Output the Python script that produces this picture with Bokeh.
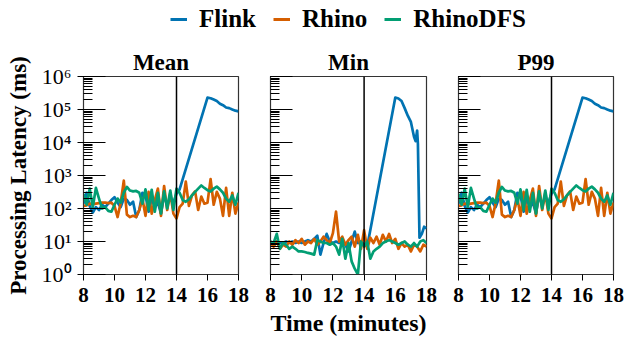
from bokeh.plotting import figure
from bokeh.layouts import column, row
from bokeh.models import (Range1d, FixedTicker, LogTicker, Span, Legend, LegendItem,
                          CustomJSTickFormatter)
from bokeh.embed import file_html
from bokeh.resources import INLINE

# ---------------- data ----------------
TIME = [8.0, 8.2, 8.4, 8.6, 8.8, 9.0, 9.2, 9.4, 9.6, 9.8, 10.0, 10.2, 10.4, 10.6, 10.8,
        11.0, 11.2, 11.4, 11.6, 11.8, 12.0, 12.2, 12.4, 12.6, 12.8, 13.0, 13.2, 13.4,
        13.6, 13.8, 14.0, 14.2, 14.4, 14.6, 14.8, 15.0, 15.2, 15.4, 15.6, 15.8, 16.0,
        16.2, 16.4, 16.6, 16.8, 17.0, 17.2, 17.4, 17.6, 17.8, 18.0]

# Mean panel
MEAN_FLINK_T = [8.0, 8.2, 8.4, 8.6, 8.8, 9.0, 9.2, 9.4, 9.6, 9.8, 10.0, 10.2, 10.4, 10.6,
                10.8, 11.0, 11.2, 11.4, 11.6, 11.8, 12.0, 12.2, 12.4, 12.6, 12.8, 13.0,
                13.2, 13.4, 13.6, 13.8, 14.0, 14.2, 16.0, 16.2, 16.4, 16.6, 16.8, 17.0,
                17.2, 17.4, 17.6, 17.8, 18.0]
MEAN_FLINK = [140, 300, 120, 75, 110, 90, 130, 110, 140, 180, 220, 150, 110, 200, 180,
              130, 160, 55, 90, 300, 250, 80, 200, 110, 150, 70, 250, 130, 200, 150, 280,
              380, 230000, 220000, 200000, 180000, 150000, 135000, 115000, 110000,
              100000, 92000, 88000]
MEAN_RHINO = [120, 125, 140, 135, 140, 145, 150, 150, 145, 150, 120, 55, 150, 700, 65,
              55, 60, 55, 90, 200, 60, 320, 70, 180, 400, 60, 480, 90, 300, 70, 50, 110,
              140, 650, 120, 250, 330, 90, 230, 140, 150, 780, 130, 320, 200, 60, 420, 60,
              300, 70, 150]
MEAN_DFS = [280, 130, 400, 110, 420, 200, 100, 110, 85, 80, 130, 200, 150, 300, 450, 350,
            330, 340, 300, 140, 380, 90, 370, 80, 300, 70, 330, 100, 350, 90, 400, 300,
            180, 160, 190, 250, 320, 400, 500, 420, 360, 330, 400, 460, 380, 300, 200,
            160, 250, 130, 300]

# Min panel
MIN_FLINK_T = [8.0, 8.2, 8.4, 8.6, 8.8, 9.0, 9.2, 9.4, 9.6, 9.8, 10.0, 10.2, 10.4, 10.6,
               10.8, 11.0, 11.2, 11.4, 11.6, 11.8, 12.0, 12.2, 12.4, 12.6, 12.8, 13.0,
               13.2, 13.4, 13.6, 13.8, 14.0, 14.2, 16.0, 16.2, 16.4, 16.6, 16.8, 17.0,
               17.2, 17.3, 17.4, 17.45, 17.55, 17.7, 17.85, 18.0]
MIN_FLINK = [9, 8, 10, 9, 9, 10, 9, 10, 9, 10, 9, 10, 11, 10, 12, 15, 4, 9, 17, 10, 9, 10,
             9, 10, 8, 5, 10, 20, 9, 10, 8, 7, 230000, 215000, 180000, 110000, 65000,
             42000, 15000, 11000, 23000, 9000, 13, 17, 28, 25]
MIN_RHINO = [9, 7, 10, 6, 8, 7, 10, 8, 11, 9, 12, 8, 10, 9, 12, 8, 10, 14, 11, 9, 18, 80,
             10, 14, 8, 11, 14, 7, 16, 6, 22, 6, 13, 9, 14, 8, 16, 10, 17, 9, 12, 6, 9, 7,
             8, 5, 8, 7, 5, 8, 7]
MIN_DFS = [10, 9, 17, 6, 9, 8, 6, 7, 6, 5, 5, 4.8, 4.5, 4.3, 4, 11, 10, 9, 9, 8, 9, 7, 4,
           12, 3, 9, 2.5, 1.5, 1.0, 10, 7, 10, 3, 5, 6, 7, 9, 10, 11, 10, 9, 8, 9, 10, 8,
           7, 9, 7, 10, 11, 9]

# P99 panel (drawn identical to Mean in the reference)
P99_FLINK_T = MEAN_FLINK_T
P99_FLINK = MEAN_FLINK
P99_RHINO = MEAN_RHINO
P99_DFS = MEAN_DFS

TITLES = ["Mean", "Min", "P99"]
SERIES = ["Flink", "Rhino", "RhinoDFS"]
X_TICKS = [8, 10, 12, 14, 16, 18]
EVENT_TIME = 14

# ---------------- style ----------------
BLUE, ORANGE, GREEN = "#0173B2", "#D55E00", "#029E73"
FONT = "Liberation Serif"
FRAME_H = 198

sup_js = """
const s = {'0':'\\u2070','1':'\\u00b9','2':'\\u00b2','3':'\\u00b3','4':'\\u2074',
           '5':'\\u2075','6':'\\u2076','7':'\\u2077','8':'\\u2078','9':'\\u2079','-':'\\u207b'};
const e = Math.round(Math.log10(tick));
return '10' + String(e).split('').map(c => s[c]).join('');
"""


def make_panel(title, ft, fv, rv, dv, frame_w, bl, br, first, middle):
    p = figure(output_backend="svg", toolbar_location=None, y_axis_type="log",
               x_range=Range1d(8, 18), y_range=Range1d(1, 1e6),
               frame_width=frame_w, frame_height=FRAME_H,
               min_border_left=bl, min_border_right=br,
               min_border_top=40, min_border_bottom=65, title=title)
    p.title.text_font = FONT
    p.title.text_font_size = "23px"
    p.title.text_font_style = "bold"
    p.title.text_color = "black"
    p.title.align = "center"
    p.title.standoff = 4
    p.grid.visible = False
    p.outline_line_color = "#333333"
    p.outline_line_width = 1.2
    p.background_fill_color = "white"
    p.border_fill_color = "white"

    p.line(ft, fv, color=BLUE, line_width=2.7, line_join="round")
    p.line(TIME, rv, color=ORANGE, line_width=2.7, line_join="round")
    p.line(TIME, dv, color=GREEN, line_width=2.7, line_join="round")
    p.add_layout(Span(location=EVENT_TIME, dimension="height", line_color="black",
                      line_width=1.5))

    xa = p.xaxis[0]
    xa.ticker = FixedTicker(ticks=X_TICKS, minor_ticks=[])
    xa.major_tick_in = 0
    xa.major_tick_out = 6
    xa.minor_tick_in = 0
    xa.minor_tick_out = 0
    xa.axis_line_color = "#333333"
    xa.major_label_text_font = FONT
    xa.major_label_text_font_size = "21px"
    xa.major_label_text_font_style = "bold"
    xa.major_label_text_color = "black"
    xa.major_label_standoff = 7
    if middle:
        xa.axis_label = "Time (minutes)"
        xa.axis_label_text_font = FONT
        xa.axis_label_text_font_size = "24px"
        xa.axis_label_text_font_style = "bold"
        xa.axis_label_text_color = "black"
        xa.axis_label_standoff = 5

    ya = p.yaxis[0]
    ya.ticker = LogTicker(num_minor_ticks=10)
    ya.major_tick_in = 22
    ya.minor_tick_in = 9
    ya.minor_tick_out = 0
    ya.axis_line_color = "#333333"
    ya.major_tick_line_color = "black"
    ya.minor_tick_line_color = "black"
    if first:
        ya.major_tick_out = 6
        ya.formatter = CustomJSTickFormatter(code=sup_js)
        ya.major_label_text_font = FONT
        ya.major_label_text_font_size = "22px"
        ya.major_label_text_color = "black"
        ya.major_label_standoff = 6
        ya.axis_label = "Processing Latency (ms)"
        ya.axis_label_text_font = FONT
        ya.axis_label_text_font_size = "23px"
        ya.axis_label_text_font_style = "bold"
        ya.axis_label_text_color = "black"
        ya.axis_label_standoff = 8
    else:
        ya.major_tick_out = 0
        ya.major_label_text_font_size = "2px"
        ya.major_label_text_alpha = 0
        ya.major_label_standoff = 0
    return p


p1 = make_panel(TITLES[0], MEAN_FLINK_T, MEAN_FLINK, MEAN_RHINO, MEAN_DFS, 155, 83, 16, True, False)
p2 = make_panel(TITLES[1], MIN_FLINK_T, MIN_FLINK, MIN_RHINO, MIN_DFS, 156, 16, 16, False, True)
p3 = make_panel(TITLES[2], P99_FLINK_T, P99_FLINK, P99_RHINO, P99_DFS, 155, 16, 11, False, False)

# ---------------- legend strip ----------------
lg = figure(output_backend="svg", toolbar_location=None, width=624, height=36,
            min_border=0, x_range=Range1d(0, 1), y_range=Range1d(0, 1))
lg.axis.visible = False
lg.grid.visible = False
lg.outline_line_color = None
# off-screen stand-ins, only used to draw the legend swatches
rs = [lg.line([-5, -4], [-5, -4], color=c, line_width=3) for c in (BLUE, ORANGE, GREEN)]
legend = Legend(items=[LegendItem(label=n, renderers=[r]) for n, r in zip(SERIES, rs)],
                orientation="horizontal", location=(170, 3), border_line_color=None,
                background_fill_alpha=0, padding=0, margin=0, spacing=17,
                glyph_width=17, label_standoff=12,
                label_text_font=FONT, label_text_font_size="25px",
                label_text_font_style="bold", label_text_color="black")
lg.add_layout(legend, "center")

layout = column(lg, row(p1, p2, p3, spacing=0), spacing=0)

with open("out.html", "w", encoding="utf-8") as f:
    f.write(file_html(layout, INLINE))
